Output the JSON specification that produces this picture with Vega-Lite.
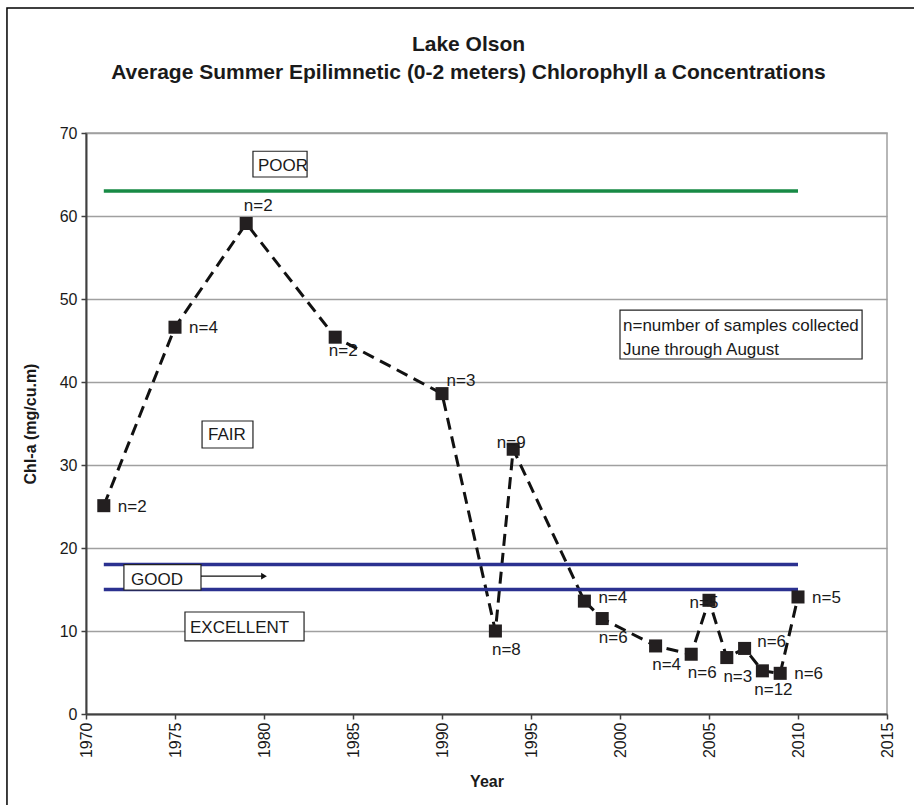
{
  "$schema": "https://vega.github.io/schema/vega-lite/v6.json",
  "width": 801,
  "height": 581,
  "autosize": {"type": "none"},
  "padding": {"left": 86, "top": 133, "right": 27, "bottom": 91},
  "background": "white",
  "config": {
    "font": "Liberation Sans",
    "view": {"stroke": "#a0a0a0", "strokeWidth": 1.5},
    "text": {"font": "Liberation Sans", "fontSize": 17, "color": "#1a1a1a", "baseline": "middle"}
  },
  "title": {
    "text": ["Lake Olson", "Average Summer Epilimnetic (0-2 meters) Chlorophyll a Concentrations"],
    "font": "Liberation Sans",
    "fontSize": 21,
    "fontWeight": "bold",
    "color": "#1a1a1a",
    "lineHeight": 28,
    "offset": 0,
    "dy": 76,
    "dx": -18,
    "anchor": "middle"
  },
  "datasets": {
    "pts": [
      {"year": 1971, "chl": 25.1, "label": "n=2"},
      {"year": 1975, "chl": 46.6, "label": "n=4"},
      {"year": 1979, "chl": 59.1, "label": "n=2"},
      {"year": 1984, "chl": 45.4, "label": "n=2"},
      {"year": 1990, "chl": 38.6, "label": "n=3"},
      {"year": 1993, "chl": 10.0, "label": "n=8"},
      {"year": 1994, "chl": 31.9, "label": "n=9"},
      {"year": 1998, "chl": 13.6, "label": "n=4"},
      {"year": 1999, "chl": 11.5, "label": "n=6"},
      {"year": 2002, "chl": 8.2, "label": "n=4"},
      {"year": 2004, "chl": 7.2, "label": "n=6"},
      {"year": 2005, "chl": 13.7, "label": "n=5"},
      {"year": 2006, "chl": 6.8, "label": "n=3"},
      {"year": 2007, "chl": 7.9, "label": "n=6"},
      {"year": 2008, "chl": 5.2, "label": "n=12"},
      {"year": 2009, "chl": 4.9, "label": "n=6"},
      {"year": 2010, "chl": 14.1, "label": "n=5"}
    ],
    "thr": [
      {"level": "poor", "value": 63, "start": 1971, "end": 2010},
      {"level": "good", "value": 18, "start": 1971, "end": 2010},
      {"level": "excellent", "value": 15, "start": 1971, "end": 2010}
    ],
    "boxes": [
      {"name": "POOR", "x1": 1979.38, "x2": 1982.42, "y1": 67.8, "y2": 64.7},
      {"name": "FAIR", "x1": 1976.52, "x2": 1979.38, "y1": 35.3, "y2": 32.05},
      {"name": "GOOD", "x1": 1972.13, "x2": 1976.46, "y1": 18.0, "y2": 14.94},
      {"name": "EXCELLENT", "x1": 1975.56, "x2": 1982.25, "y1": 12.29, "y2": 8.8},
      {"name": "NOTE", "x1": 2000.0, "x2": 2013.6, "y1": 48.67, "y2": 42.77}
    ],
    "texts": [
      {"text": "POOR", "tx": 1979.66, "ty": 66.0},
      {"text": "FAIR", "tx": 1976.85, "ty": 33.6},
      {"text": "GOOD", "tx": 1972.53, "ty": 16.1},
      {"text": "EXCELLENT", "tx": 1975.84, "ty": 10.4},
      {"text": "n=number of samples collected", "tx": 2000.17, "ty": 46.75},
      {"text": "June through August", "tx": 2000.17, "ty": 43.86}
    ],
    "arrow": [
      {"from": 1976.46, "to": 1980.0, "yv": 16.6}
    ]
  },
  "layer": [
    {
      "data": {"values": [{}]},
      "mark": {"type": "rect", "fillOpacity": 0, "stroke": "#000000", "strokeWidth": 1.5, "clip": false},
      "encoding": {
        "x": {"datum": 1965.56, "type": "quantitative", "scale": {"domain": [1970, 2015], "nice": false, "zero": false}},
        "x2": {"datum": 2025},
        "y": {"datum": 85.06, "type": "quantitative", "scale": {"domain": [0, 70], "nice": false}},
        "y2": {"datum": -20}
      }
    },
    {
      "data": {"name": "pts"},
      "mark": {"type": "line", "color": "#111111", "strokeWidth": 3, "strokeDash": [12, 7]},
      "encoding": {
        "x": {
          "field": "year", "type": "quantitative", "title": "Year",
          "scale": {"domain": [1970, 2015], "nice": false, "zero": false},
          "axis": {
            "values": [1970, 1975, 1980, 1985, 1990, 1995, 2000, 2005, 2010, 2015],
            "format": "d", "labelAngle": -90, "labelFontSize": 16, "labelColor": "#1a1a1a",
            "labelPadding": 3, "grid": false, "tickSize": 5, "tickColor": "#404040", "tickWidth": 1.5,
            "domainColor": "#404040", "domainWidth": 2, "titleFontSize": 16, "titleFontWeight": "bold",
            "titleColor": "#1a1a1a", "titlePadding": 16
          }
        },
        "y": {
          "field": "chl", "type": "quantitative", "title": "Chl-a (mg/cu.m)",
          "scale": {"domain": [0, 70], "nice": false},
          "axis": {
            "values": [0, 10, 20, 30, 40, 50, 60, 70],
            "labelFontSize": 16, "labelColor": "#1a1a1a", "labelPadding": 4,
            "grid": true, "gridColor": "#a0a0a0", "gridWidth": 1.5,
            "tickSize": 5, "tickColor": "#404040", "tickWidth": 1.5,
            "domainColor": "#404040", "domainWidth": 2,
            "titleFontSize": 16, "titleFontWeight": "bold", "titleColor": "#1a1a1a", "titlePadding": 21
          }
        }
      }
    },
    {
      "data": {"name": "thr"},
      "mark": {"type": "rule", "strokeWidth": 3.5},
      "encoding": {
        "x": {"field": "start", "type": "quantitative", "title": "Year"},
        "x2": {"field": "end"},
        "y": {"field": "value", "type": "quantitative", "title": "Chl-a (mg/cu.m)"},
        "color": {
          "field": "level", "type": "nominal", "legend": null,
          "scale": {"domain": ["poor", "good", "excellent"], "range": ["#178a45", "#2b3190", "#2b3190"]}
        }
      }
    },
    {
      "data": {"name": "pts"},
      "mark": {"type": "square", "size": 170, "color": "#231f20", "filled": true, "opacity": 1},
      "encoding": {
        "x": {"field": "year", "type": "quantitative", "title": "Year"},
        "y": {"field": "chl", "type": "quantitative", "title": "Chl-a (mg/cu.m)"}
      }
    },
    {
      "data": {"name": "pts"},
      "transform": [{"filter": {"field": "year", "oneOf": [1971, 1975, 2009, 2010]}}],
      "mark": {"type": "text", "align": "left", "dx": 14, "dy": 1},
      "encoding": {
        "x": {"field": "year", "type": "quantitative", "title": "Year"},
        "y": {"field": "chl", "type": "quantitative", "title": "Chl-a (mg/cu.m)"},
        "text": {"field": "label"}
      }
    },
    {
      "data": {"name": "pts"},
      "transform": [{"filter": {"field": "year", "oneOf": [1998]}}],
      "mark": {"type": "text", "align": "left", "dx": 14, "dy": -3},
      "encoding": {
        "x": {"field": "year", "type": "quantitative", "title": "Year"},
        "y": {"field": "chl", "type": "quantitative", "title": "Chl-a (mg/cu.m)"},
        "text": {"field": "label"}
      }
    },
    {
      "data": {"name": "pts"},
      "transform": [{"filter": {"field": "year", "oneOf": [1993, 1999, 2002, 2004, 2006, 2008]}}],
      "mark": {"type": "text", "align": "center", "dx": 11, "dy": 19},
      "encoding": {
        "x": {"field": "year", "type": "quantitative", "title": "Year"},
        "y": {"field": "chl", "type": "quantitative", "title": "Chl-a (mg/cu.m)"},
        "text": {"field": "label"}
      }
    },
    {
      "data": {"name": "pts"},
      "transform": [{"filter": {"field": "year", "oneOf": [1984]}}],
      "mark": {"type": "text", "align": "center", "dx": 8, "dy": 14},
      "encoding": {
        "x": {"field": "year", "type": "quantitative", "title": "Year"},
        "y": {"field": "chl", "type": "quantitative", "title": "Chl-a (mg/cu.m)"},
        "text": {"field": "label"}
      }
    },
    {
      "data": {"name": "pts"},
      "transform": [{"filter": {"field": "year", "oneOf": [1979]}}],
      "mark": {"type": "text", "align": "center", "dx": 12, "dy": -17},
      "encoding": {
        "x": {"field": "year", "type": "quantitative", "title": "Year"},
        "y": {"field": "chl", "type": "quantitative", "title": "Chl-a (mg/cu.m)"},
        "text": {"field": "label"}
      }
    },
    {
      "data": {"name": "pts"},
      "transform": [{"filter": {"field": "year", "oneOf": [1990]}}],
      "mark": {"type": "text", "align": "center", "dx": 19, "dy": -13},
      "encoding": {
        "x": {"field": "year", "type": "quantitative", "title": "Year"},
        "y": {"field": "chl", "type": "quantitative", "title": "Chl-a (mg/cu.m)"},
        "text": {"field": "label"}
      }
    },
    {
      "data": {"name": "pts"},
      "transform": [{"filter": {"field": "year", "oneOf": [1994]}}],
      "mark": {"type": "text", "align": "center", "dx": -2, "dy": -6},
      "encoding": {
        "x": {"field": "year", "type": "quantitative", "title": "Year"},
        "y": {"field": "chl", "type": "quantitative", "title": "Chl-a (mg/cu.m)"},
        "text": {"field": "label"}
      }
    },
    {
      "data": {"name": "pts"},
      "transform": [{"filter": {"field": "year", "oneOf": [2005]}}],
      "mark": {"type": "text", "align": "center", "dx": -5, "dy": 3},
      "encoding": {
        "x": {"field": "year", "type": "quantitative", "title": "Year"},
        "y": {"field": "chl", "type": "quantitative", "title": "Chl-a (mg/cu.m)"},
        "text": {"field": "label"}
      }
    },
    {
      "data": {"name": "pts"},
      "transform": [{"filter": {"field": "year", "oneOf": [2007]}}],
      "mark": {"type": "text", "align": "center", "dx": 27, "dy": -6},
      "encoding": {
        "x": {"field": "year", "type": "quantitative", "title": "Year"},
        "y": {"field": "chl", "type": "quantitative", "title": "Chl-a (mg/cu.m)"},
        "text": {"field": "label"}
      }
    },
    {
      "data": {"name": "boxes"},
      "mark": {"type": "rect", "fill": "white", "stroke": "#222222", "strokeWidth": 1.2},
      "encoding": {
        "x": {"field": "x1", "type": "quantitative", "title": "Year"},
        "x2": {"field": "x2"},
        "y": {"field": "y1", "type": "quantitative", "title": "Chl-a (mg/cu.m)"},
        "y2": {"field": "y2"}
      }
    },
    {
      "data": {"name": "texts"},
      "mark": {"type": "text", "align": "left"},
      "encoding": {
        "x": {"field": "tx", "type": "quantitative", "title": "Year"},
        "y": {"field": "ty", "type": "quantitative", "title": "Chl-a (mg/cu.m)"},
        "text": {"field": "text"}
      }
    },
    {
      "data": {"name": "arrow"},
      "mark": {"type": "rule", "color": "#111111", "strokeWidth": 1.2},
      "encoding": {
        "x": {"field": "from", "type": "quantitative", "title": "Year"},
        "x2": {"field": "to"},
        "y": {"field": "yv", "type": "quantitative", "title": "Chl-a (mg/cu.m)"}
      }
    },
    {
      "data": {"name": "arrow"},
      "mark": {"type": "point", "shape": "triangle-right", "size": 45, "filled": true, "color": "#111111", "opacity": 1},
      "encoding": {
        "x": {"field": "to", "type": "quantitative", "title": "Year"},
        "y": {"field": "yv", "type": "quantitative", "title": "Chl-a (mg/cu.m)"}
      }
    }
  ]
}
